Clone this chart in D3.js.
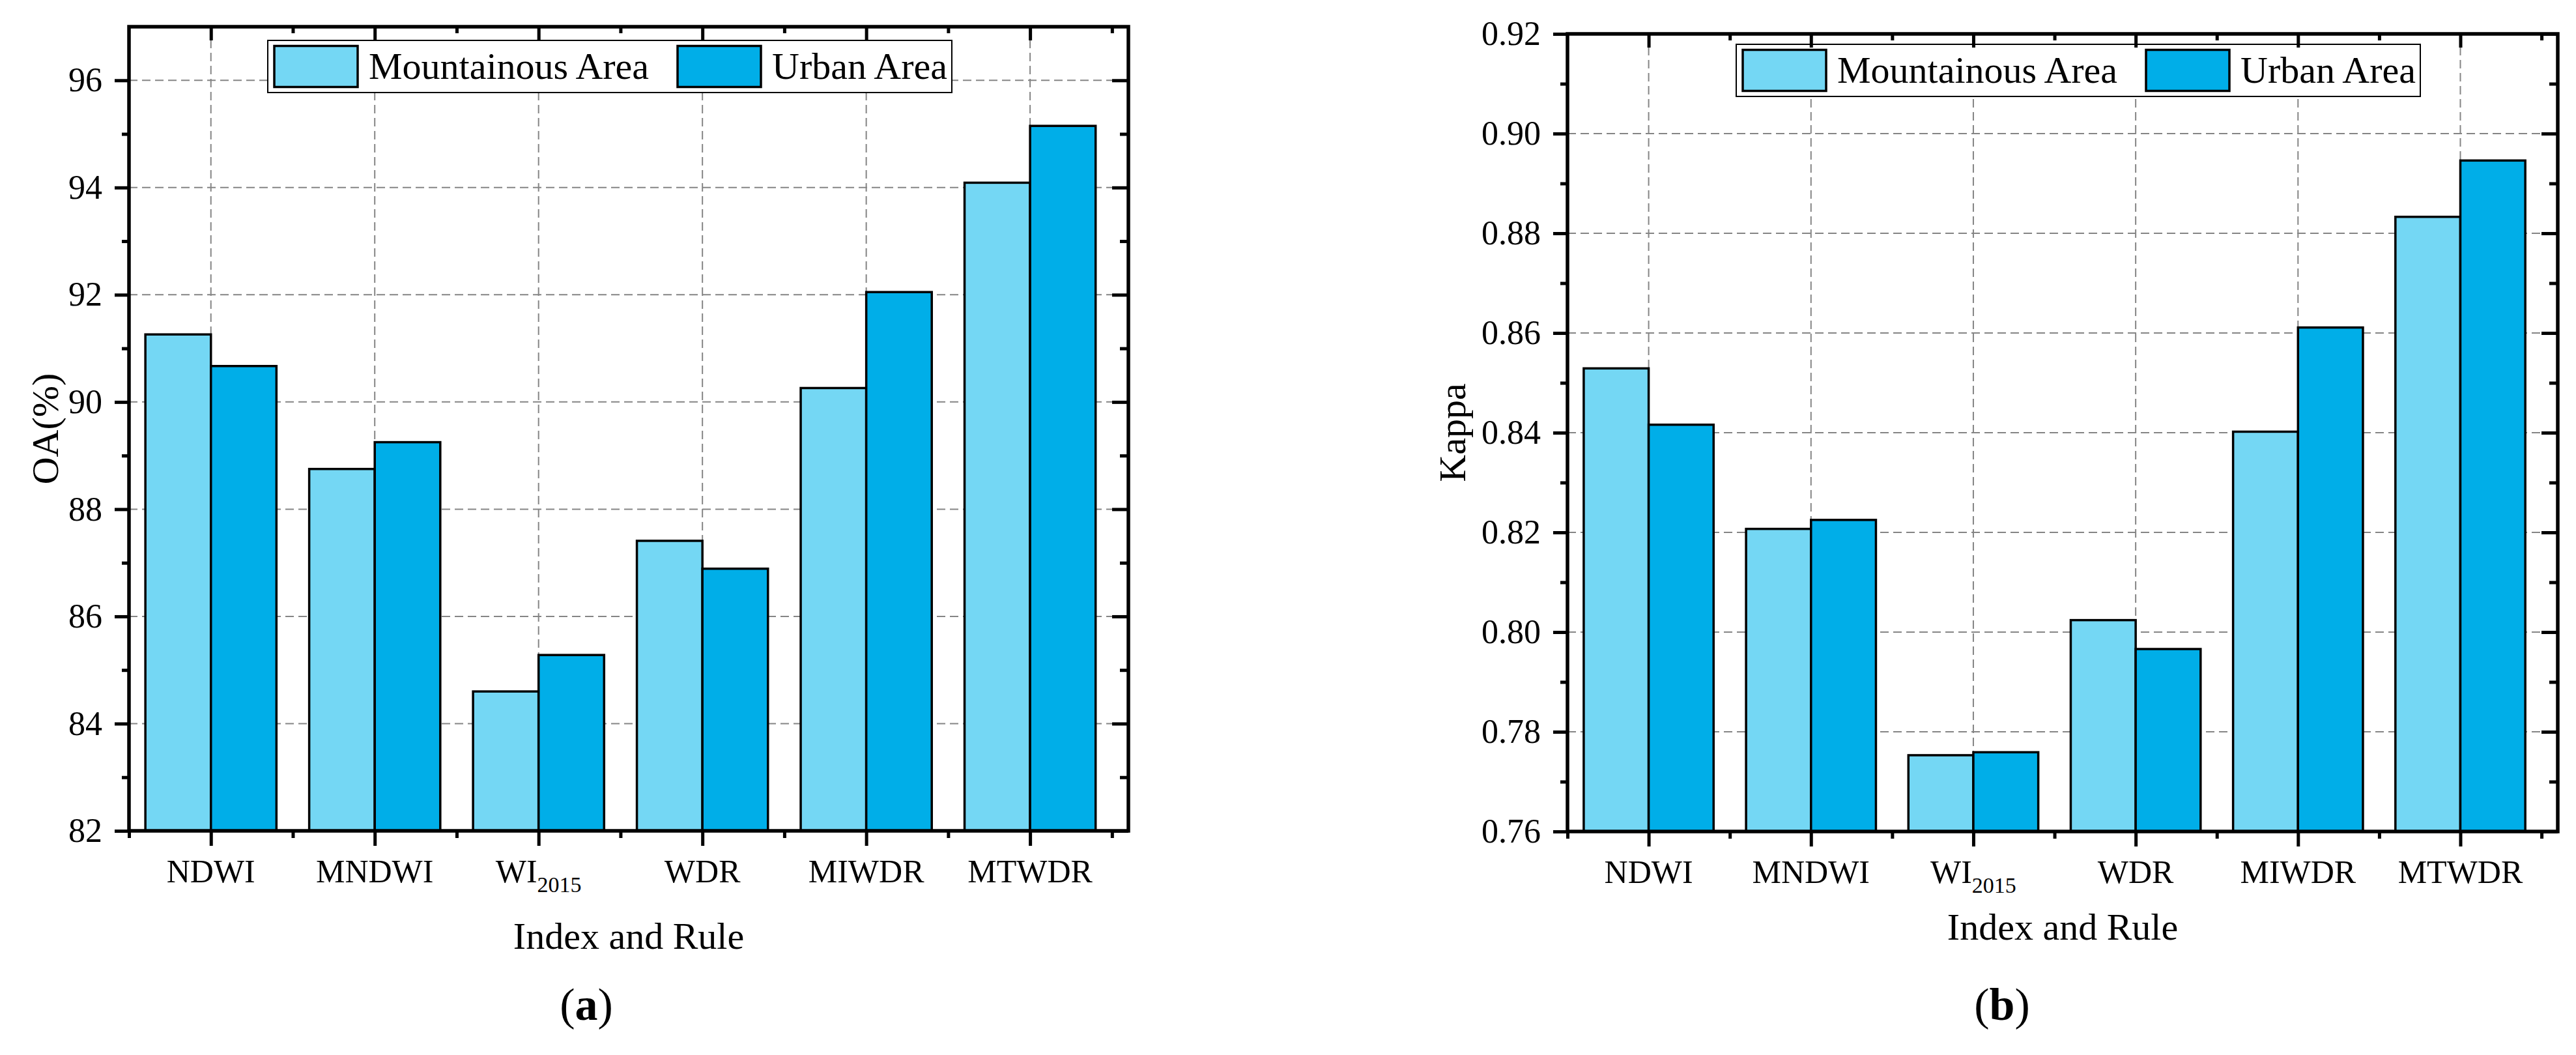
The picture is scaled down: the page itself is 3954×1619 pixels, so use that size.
<!DOCTYPE html>
<html>
<head>
<meta charset="utf-8">
<script src="https://cdn.jsdelivr.net/npm/d3@7"></script>
<style>
body { margin: 0; background: #fff; }
svg { display: block; font-family: "Liberation Serif", "Times New Roman", serif; }
</style>
</head>
<body>
<svg></svg>
<script>
const width = 3954;
const height = 1619;

// categories, "_" marks a subscript
const categories = ["NDWI", "MNDWI", "WI_2015", "WDR", "MIWDR", "MTWDR"];
const seriesNames = ["Mountainous Area", "Urban Area"];
const seriesColors = ["#74d7f4", "#00aee8"];

// (a) overall accuracy, %
const oaMountain = [91.26, 88.75, 84.60, 87.41, 90.26, 94.09];
const oaUrban = [90.67, 89.25, 85.28, 86.89, 92.05, 95.15];
const oaTicks = [82, 84, 86, 88, 90, 92, 94, 96];
const oaMinorTicks = [83, 85, 87, 89, 91, 93, 95];

// (b) kappa
const kappaMountain = [0.8529, 0.8207, 0.7753, 0.8024, 0.8402, 0.8833];
const kappaUrban = [0.8416, 0.8225, 0.7759, 0.7966, 0.8611, 0.8946];
const kappaTicks = [0.76, 0.78, 0.80, 0.82, 0.84, 0.86, 0.88, 0.90, 0.92];
const kappaMinorTicks = [0.77, 0.79, 0.81, 0.83, 0.85, 0.87, 0.89, 0.91];

const svg = d3.select("svg")
    .attr("width", width)
    .attr("height", height);

const panels = [
    { label: "a", series: [oaMountain, oaUrban], domain: [82, 97], ticks: oaTicks, minor: oaMinorTicks,
      fmt: d3.format("d"), yTitle: "OA(%)",
      left: 198, right: 1732, top: 41, bottom: 1275,
      legendX: 411, legendY: 62, yTitleX: 89, xTitleY: 1456, captionX: 900 },
    { label: "b", series: [kappaMountain, kappaUrban], domain: [0.76, 0.92], ticks: kappaTicks, minor: kappaMinorTicks,
      fmt: d3.format(".2f"), yTitle: "Kappa",
      left: 2406, right: 3926, top: 52, bottom: 1276,
      legendX: 2665, legendY: 68, yTitleX: 2249, xTitleY: 1442, captionX: 3073 }
];

const majorX = d3.range(1, categories.length + 1);
const minorX = d3.range(0.5, categories.length + 1, 1);

function styleAxis(sel, fontSize) {
    sel.select(".domain").remove();
    sel.selectAll(".tick line").attr("stroke", "#000").attr("stroke-width", 5);
    sel.selectAll(".tick text")
        .attr("fill", "#000")
        .style("font-family", "'Liberation Serif', 'Times New Roman', serif")
        .style("font-size", fontSize + "px");
}

panels.forEach(p => {
    const g = svg.append("g");

    const x = d3.scaleLinear().domain([0.5, 6.6]).range([p.left, p.right]);
    const y = d3.scaleLinear().domain(p.domain).range([p.bottom, p.top]);

    // grid
    const grid = g.append("g")
        .attr("stroke", "#858585")
        .attr("stroke-width", 2)
        .attr("stroke-dasharray", "13,7");
    grid.selectAll(".hgrid")
        .data(p.ticks.filter(t => t > p.domain[0] && t < p.domain[1]))
        .enter().append("line")
        .attr("x1", p.left).attr("x2", p.right)
        .attr("y1", d => y(d)).attr("y2", d => y(d));
    grid.selectAll(".vgrid")
        .data(majorX)
        .enter().append("line")
        .attr("x1", d => x(d)).attr("x2", d => x(d))
        .attr("y1", p.top).attr("y2", p.bottom);

    // bars
    p.series.forEach((vals, s) => {
        g.append("g").selectAll("rect")
            .data(vals)
            .enter().append("rect")
            .attr("x", (d, i) => s === 0 ? x(i + 1 - 0.4) : x(i + 1))
            .attr("width", x(0.9) - x(0.5))
            .attr("y", d => y(d))
            .attr("height", d => y(p.domain[0]) - y(d))
            .attr("fill", seriesColors[s])
            .attr("stroke", "#000")
            .attr("stroke-width", 3.5);
    });

    // legend
    const lg = g.append("g").attr("transform", `translate(${p.legendX},${p.legendY})`);
    lg.append("rect")
        .attr("width", 1050).attr("height", 80)
        .attr("fill", "#fff").attr("stroke", "#000").attr("stroke-width", 2);
    const itemX = [10, 629];
    seriesNames.forEach((name, s) => {
        lg.append("rect")
            .attr("x", itemX[s]).attr("y", 8.5)
            .attr("width", 128).attr("height", 63)
            .attr("fill", seriesColors[s])
            .attr("stroke", "#000").attr("stroke-width", 3.5);
        lg.append("text")
            .attr("x", itemX[s] + 145).attr("y", 58.5)
            .attr("font-size", 58)
            .text(name);
    });

    // axes: major + minor ticks on all four sides
    g.append("g").attr("transform", `translate(${p.left},0)`)
        .call(d3.axisLeft(y).tickValues(p.ticks).tickSize(22).tickPadding(19).tickFormat(p.fmt))
        .call(sel => styleAxis(sel, 52));
    g.append("g").attr("transform", `translate(${p.left},0)`)
        .call(d3.axisLeft(y).tickValues(p.minor).tickSize(11).tickFormat(""))
        .call(sel => styleAxis(sel, 52));
    g.append("g").attr("transform", `translate(${p.right},0)`)
        .call(d3.axisRight(y).tickValues(p.ticks).tickSize(-25).tickFormat(""))
        .call(sel => styleAxis(sel, 52));
    g.append("g").attr("transform", `translate(${p.right},0)`)
        .call(d3.axisRight(y).tickValues(p.minor).tickSize(-13).tickFormat(""))
        .call(sel => styleAxis(sel, 52));
    g.append("g").attr("transform", `translate(0,${p.bottom})`)
        .call(d3.axisBottom(x).tickValues(majorX).tickSize(23).tickFormat(""))
        .call(sel => styleAxis(sel, 52));
    g.append("g").attr("transform", `translate(0,${p.bottom})`)
        .call(d3.axisBottom(x).tickValues(minorX).tickSize(11).tickFormat(""))
        .call(sel => styleAxis(sel, 52));
    g.append("g").attr("transform", `translate(0,${p.top})`)
        .call(d3.axisTop(x).tickValues(majorX).tickSize(-21).tickFormat(""))
        .call(sel => styleAxis(sel, 52));
    g.append("g").attr("transform", `translate(0,${p.top})`)
        .call(d3.axisTop(x).tickValues(minorX.slice(1)).tickSize(-10).tickFormat(""))
        .call(sel => styleAxis(sel, 52));

    // category labels (with subscript)
    const lab = g.append("g").selectAll("text")
        .data(categories)
        .enter().append("text")
        .attr("x", (d, i) => x(i + 1))
        .attr("y", p.bottom + 79)
        .attr("text-anchor", "middle")
        .attr("font-size", 50);
    lab.each(function(d) {
        const parts = d.split("_");
        const t = d3.select(this);
        t.append("tspan").text(parts[0]);
        if (parts[1]) {
            t.append("tspan").attr("font-size", 34).attr("dy", 15).text(parts[1]);
        }
    });

    // frame
    g.append("rect")
        .attr("x", p.left).attr("y", p.top)
        .attr("width", p.right - p.left).attr("height", p.bottom - p.top)
        .attr("fill", "none").attr("stroke", "#000").attr("stroke-width", 5.5);

    // titles
    g.append("text")
        .attr("x", (p.left + p.right) / 2).attr("y", p.xTitleY)
        .attr("text-anchor", "middle").attr("font-size", 58)
        .text("Index and Rule");
    g.append("text")
        .attr("transform", `translate(${p.yTitleX},${(p.top + p.bottom) / 2}) rotate(-90)`)
        .attr("text-anchor", "middle").attr("font-size", 58)
        .text(p.yTitle);

    const cap = g.append("text")
        .attr("x", p.captionX).attr("y", 1565)
        .attr("text-anchor", "middle").attr("font-size", 70);
    cap.append("tspan").text("(");
    cap.append("tspan").attr("font-weight", "bold").text(p.label);
    cap.append("tspan").text(")");
});
</script>
</body>
</html>
